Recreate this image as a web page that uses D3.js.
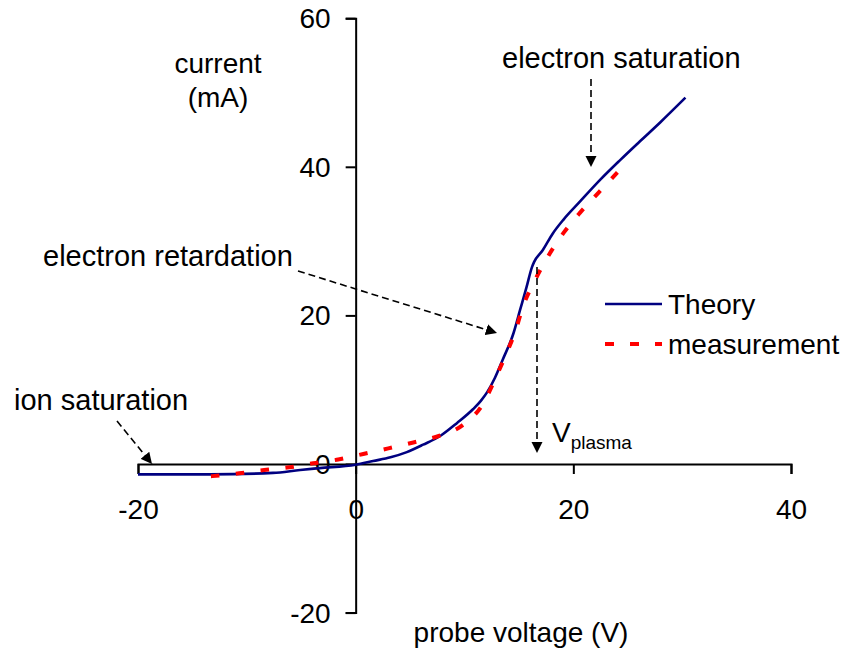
<!DOCTYPE html>
<html>
<head>
<meta charset="utf-8">
<script src="https://cdn.jsdelivr.net/npm/d3@7"></script>
<style>
  html, body { margin: 0; padding: 0; background: #fff; }
  svg { display: block; font-family: "Liberation Sans", Arial, sans-serif; }
</style>
</head>
<body>
<svg id="chart" width="841" height="652"></svg>
<script>
// Langmuir probe I-V characteristic: theory vs measurement
const theoryV = [-20, -13.4, -7.6, -5.1, -3.3, 0, 1.6, 3.2, 4.7, 6.2, 7.8, 9.3, 10.8, 11.5, 12.1, 12.8, 13.5, 14.5, 15.1, 15.7, 16.2, 16.4, 17.2, 18.1, 19.1, 20.6, 22.5, 24.3, 26.1, 28.0, 30.3];
const theoryI = [-1.4, -1.4, -1.2, -0.8, -0.55, -0.1, 0.4, 0.9, 1.6, 2.6, 3.8, 5.5, 7.4, 8.5, 9.7, 11.6, 14.0, 17.6, 20.7, 23.8, 26.5, 27.2, 28.8, 31.0, 32.9, 35.3, 38.3, 40.9, 43.4, 46.0, 49.3];

const measV = [-13.3, -10.7, -8.4, -6.1, -3.9, -1.6, 0.7, 3.0, 5.3, 7.5, 9.8, 11.7, 12.8, 13.8, 14.7, 15.4, 16.4, 17.7, 19.1, 20.6, 22.3, 24.4];
const measI = [-1.65, -1.25, -0.8, -0.45, 0.1, 0.6, 1.35, 2.1, 2.9, 3.7, 5.2, 8.1, 11.4, 14.7, 18.0, 21.3, 24.5, 28.0, 31.1, 33.8, 36.5, 39.8];

const xTicks = [-20, 0, 20, 40];
const yTicks = [-20, 0, 20, 40, 60];

const seriesNames = ["Theory", "measurement"];
const seriesColors = ["#000080", "#ff0000"];

const svg = d3.select("#chart");

const x = d3.scaleLinear().domain([-20, 40]).range([138, 791]);
const y = d3.scaleLinear().domain([-20, 60]).range([612.6, 18.2]);

// arrowhead marker for annotations
svg.append("defs").append("marker")
  .attr("id", "arrow")
  .attr("viewBox", "0 0 10 10")
  .attr("refX", 10).attr("refY", 5)
  .attr("markerWidth", 7).attr("markerHeight", 7)
  .attr("markerUnits", "strokeWidth")
  .attr("orient", "auto")
  .append("path").attr("d", "M0,0L10,5L0,10Z").attr("fill", "#000");

// axes crossing at the origin; labels use a plain hyphen for negatives
const fmt = d => String(d);
const xAxis = svg.append("g")
  .attr("transform", `translate(0,${y(0)})`)
  .call(d3.axisBottom(x).tickValues(xTicks).tickSize(10).tickSizeOuter(10).tickPadding(25).tickFormat(fmt));
const yAxis = svg.append("g")
  .attr("transform", `translate(${x(0)},0)`)
  .call(d3.axisLeft(y).tickValues(yTicks).tickSize(10).tickSizeOuter(10).tickPadding(15).tickFormat(fmt));

[xAxis, yAxis].forEach(g => {
  g.selectAll("path, line").attr("stroke", "#000").attr("stroke-width", 2);
  g.selectAll("text").attr("font-size", 28).attr("fill", "#000")
    .attr("font-family", "'Liberation Sans', Arial, sans-serif");
});
yAxis.selectAll("text").attr("dy", "0.34em");

// curves
const theory = theoryV.map((v, i) => [v, theoryI[i]]);
const meas = measV.map((v, i) => [v, measI[i]]);

svg.append("path")
  .datum(theory)
  .attr("fill", "none")
  .attr("stroke", seriesColors[0])
  .attr("stroke-width", 2.6)
  .attr("d", d3.line().x(d => x(d[0])).y(d => y(d[1])).curve(d3.curveMonotoneX));

svg.append("path")
  .datum(meas)
  .attr("fill", "none")
  .attr("stroke", seriesColors[1])
  .attr("stroke-width", 4)
  .attr("stroke-dasharray", "8.5,16.5")
  .attr("d", d3.line().x(d => x(d[0])).y(d => y(d[1])).curve(d3.curveMonotoneX));

// axis titles
const txt = (xp, yp, s, size, anchor) => svg.append("text")
  .attr("x", xp).attr("y", yp).attr("font-size", size)
  .attr("text-anchor", anchor || "start").attr("fill", "#000").text(s);

txt(218, 73, "current", 28, "middle");
txt(218, 107, "(mA)", 28, "middle");
txt(521, 642, "probe voltage (V)", 28, "middle");

// annotations
const arrow = (x1, y1, x2, y2) => svg.append("line")
  .attr("x1", x1).attr("y1", y1).attr("x2", x2).attr("y2", y2)
  .attr("stroke", "#000").attr("stroke-width", 1.6)
  .attr("stroke-dasharray", "7,4")
  .attr("marker-end", "url(#arrow)");

txt(502, 68, "electron saturation", 29);
arrow(591, 79, 591, 167);

txt(43, 266, "electron retardation", 29);
arrow(298, 271, 497, 333);

txt(14, 410, "ion saturation", 29);
arrow(117, 421, 152, 464);

arrow(537, 267, 537, 453);
const vp = txt(552, 442, "V", 28);
vp.append("tspan").attr("font-size", 19).attr("dy", 7).text("plasma");

// legend
const legend = svg.append("g");
seriesNames.forEach((name, i) => {
  const ly = 304 + i * 40;
  legend.append("line")
    .attr("x1", 605).attr("x2", 662).attr("y1", ly).attr("y2", ly)
    .attr("stroke", seriesColors[i])
    .attr("stroke-width", i === 0 ? 2.6 : 4)
    .attr("stroke-dasharray", i === 0 ? null : "9,16");
  legend.append("text")
    .attr("x", 668).attr("y", ly + 10)
    .attr("font-size", 28).attr("fill", "#000").text(name);
});
</script>
</body>
</html>
